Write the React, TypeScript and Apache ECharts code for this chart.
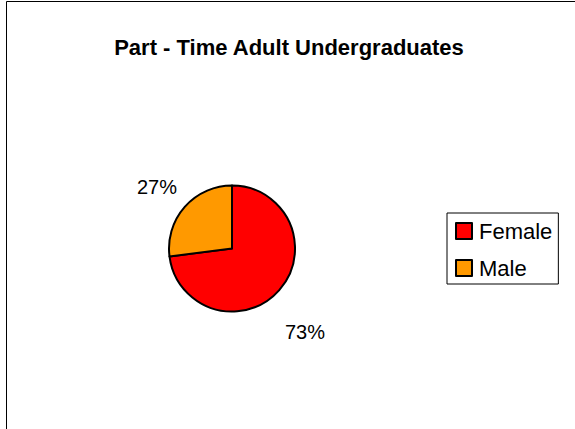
import React, { useEffect, useRef } from "react";
import * as echarts from "echarts";

const titleText = "Part - Time Adult Undergraduates";
const categories = ["Female", "Male"];
const shares = [73, 27];
const sliceColors = ["#FF0000", "#FF9900"];
// label anchor points (text centres), per category
const labelCentres: [number, number][] = [
  [305, 332],
  [157, 187],
];

const FONT = "'Liberation Sans', Arial, Helvetica, sans-serif";

export default function App() {
  const ref = useRef<HTMLDivElement>(null);

  useEffect(() => {
    if (!ref.current) return;
    const chart = echarts.init(ref.current, undefined, { renderer: "svg" });
    const data = categories.map((name, i) => ({
      name,
      value: shares[i],
      itemStyle: { color: sliceColors[i] },
    }));
    chart.setOption({
      animation: false,
      backgroundColor: "#ffffff",
      title: {
        text: titleText,
        left: 284,
        top: 31,
        textAlign: "center",
        textStyle: {
          fontFamily: FONT,
          fontWeight: "bold",
          fontSize: 22,
          color: "#000000",
        },
      },
      legend: {
        orient: "vertical",
        left: 447,
        top: 213,
        data: categories,
        icon: "rect",
        itemWidth: 16,
        itemHeight: 16,
        itemGap: 15,
        padding: [7, 6, 5, 8],
        borderColor: "#000000",
        borderWidth: 1,
        backgroundColor: "#ffffff",
        selectedMode: false,
        textStyle: {
          fontFamily: FONT,
          fontSize: 22,
          color: "#000000",
          lineHeight: 16,
          padding: [0, 0, 0, 2],
        },
      },
      graphic: [
        {
          type: "rect",
          silent: true,
          z: -10,
          shape: { x: 6.5, y: 1.5, width: 700, height: 600 },
          style: { fill: "none", stroke: "#000000", lineWidth: 1 },
        },
      ],
      series: [
        {
          type: "pie",
          center: [232, 248.5],
          radius: 63,
          startAngle: 90,
          clockwise: true,
          silent: true,
          data,
          itemStyle: { borderColor: "#000000", borderWidth: 2 },
          emphasis: { disabled: true },
          label: {
            show: true,
            position: "outside",
            formatter: "{c}%",
            fontFamily: FONT,
            fontSize: 20,
            color: "#000000",
          },
          labelLine: { show: false },
          labelLayout: (p: any) => {
            const c = labelCentres[p.dataIndex];
            return { x: c[0], y: c[1], align: "center", verticalAlign: "middle" };
          },
        },
      ],
    });
    return () => chart.dispose();
  }, []);

  return (
    <div
      ref={ref}
      style={{ position: "fixed", left: 0, top: 0, width: 575, height: 429 }}
    />
  );
}
